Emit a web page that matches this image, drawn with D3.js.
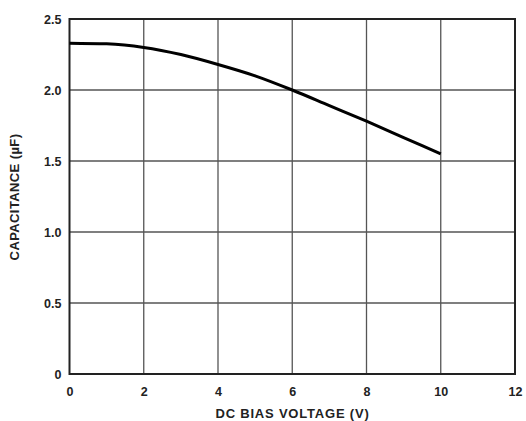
<!DOCTYPE html>
<html>
<head>
<script src="https://d3js.org/d3.v7.min.js"></script>
<style>
  body { margin: 0; background: #fff; }
  text { font-family: "Liberation Sans", Arial, sans-serif; font-weight: bold; fill: #222; }
</style>
</head>
<body>
<script>
// data
const voltage = [0, 1, 2, 3, 4, 5, 6, 7, 8, 9, 10];
const capacitance = [2.33, 2.325, 2.30, 2.25, 2.18, 2.10, 2.00, 1.89, 1.78, 1.665, 1.55];
const xTicks = [0, 2, 4, 6, 8, 10, 12];
const yTicks = [0, 0.5, 1.0, 1.5, 2.0, 2.5];
const yTickLabels = ["0", "0.5", "1.0", "1.5", "2.0", "2.5"];

const W = 526, H = 421;
const margin = {top: 19, right: 11, bottom: 47, left: 69.5};
const width = W - margin.left - margin.right,
      height = H - margin.top - margin.bottom;

const x = d3.scaleLinear().domain([0, 12]).range([0, width]);
const y = d3.scaleLinear().domain([0, 2.5]).range([height, 0]);

const svg = d3.select("body").append("svg")
  .attr("width", W).attr("height", H);
const g = svg.append("g")
  .attr("transform", "translate(" + margin.left + "," + margin.top + ")");

// grid
g.selectAll(".vgrid").data(xTicks.slice(1, -1)).enter().append("line")
  .attr("x1", d => x(d)).attr("x2", d => x(d))
  .attr("y1", 0).attr("y2", height)
  .attr("stroke", "#555").attr("stroke-width", 1.3);
g.selectAll(".hgrid").data(yTicks.slice(1, -1)).enter().append("line")
  .attr("y1", d => y(d)).attr("y2", d => y(d))
  .attr("x1", 0).attr("x2", width)
  .attr("stroke", "#555").attr("stroke-width", 1.3);

// frame
g.append("rect")
  .attr("width", width).attr("height", height)
  .attr("fill", "none").attr("stroke", "#222").attr("stroke-width", 2);

// axes (labels only)
const xAxis = g.append("g")
  .attr("transform", "translate(0," + height + ")")
  .call(d3.axisBottom(x).tickValues(xTicks).tickSize(0).tickPadding(13));
xAxis.select(".domain").remove();
xAxis.selectAll("text").style("font-size", "12.5px").style("font-family", "Liberation Sans, Arial, sans-serif")
  .style("font-weight", "bold").attr("fill", "#222");

const yAxis = g.append("g")
  .call(d3.axisLeft(y).tickValues(yTicks).tickFormat((d, i) => yTickLabels[i]).tickSize(0).tickPadding(8));
yAxis.select(".domain").remove();
yAxis.selectAll("text").style("font-size", "12.5px").style("font-family", "Liberation Sans, Arial, sans-serif")
  .style("font-weight", "bold").attr("fill", "#222");

// curve
const line = d3.line()
  .x((d, i) => x(voltage[i]))
  .y(d => y(d))
  .curve(d3.curveMonotoneX);
g.append("path")
  .datum(capacitance)
  .attr("d", line)
  .attr("fill", "none")
  .attr("stroke", "#000")
  .attr("stroke-width", 3);

// axis titles
svg.append("text")
  .attr("x", 292.5).attr("y", 418)
  .attr("text-anchor", "middle")
  .style("font-size", "13px")
  .style("letter-spacing", "0.8px")
  .text("DC BIAS VOLTAGE (V)");
svg.append("text")
  .attr("transform", "translate(19," + 197 + ") rotate(-90)")
  .attr("text-anchor", "middle")
  .style("font-size", "13px")
  .style("letter-spacing", "0.4px")
  .text("CAPACITANCE (\u00b5F)");
</script>
</body>
</html>
